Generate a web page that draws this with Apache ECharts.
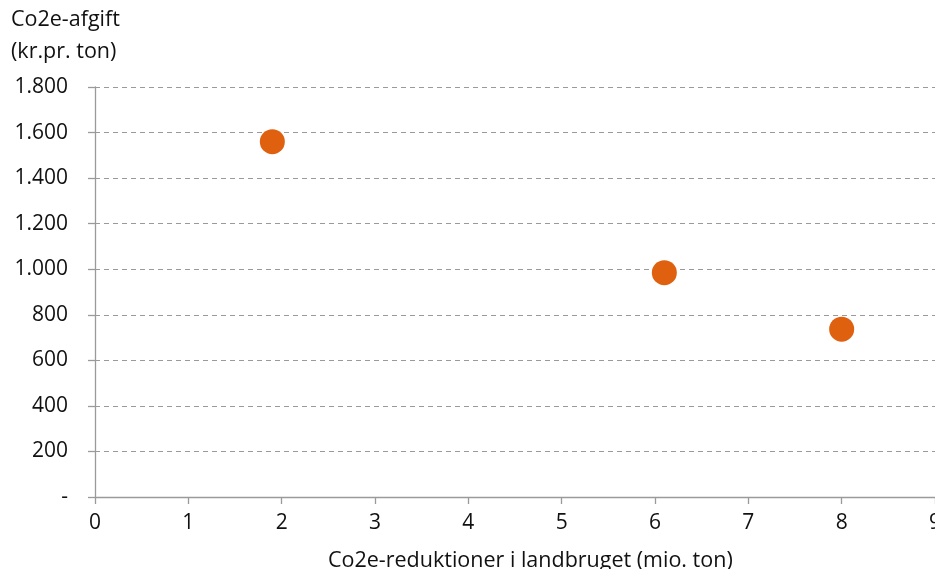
<!DOCTYPE html>
<html><head><meta charset="utf-8">
<script src="https://cdn.jsdelivr.net/npm/echarts@6/dist/echarts.min.js"></script>
<style>html,body{margin:0;padding:0;background:#fff}#c{width:935px;height:569px}</style>
</head><body><div id="c"></div>
<script>
const xValues = [1.9, 6.1, 8.0];
const yValues = [1560, 985, 737];
const yTitle = ['Co2e-afgift', '(kr.pr. ton)'];
const xTitle = 'Co2e-reduktioner i landbruget (mio. ton)';
const FONT = '"Open Sans", "Noto Sans", sans-serif';
const chart = echarts.init(document.getElementById('c'));
const fmt = v => v === 0 ? '-' : String(v).replace(/\B(?=(\d{3})+(?!\d))/g, '.');
chart.setOption({
  animation: false,
  grid: {left: 95, right: 0, top: 87, bottom: 72, containLabel: false, outerBoundsMode: 'none'},
  xAxis: {
    type: 'value', min: 0, max: 9, interval: 1,
    axisLine: {show: true, lineStyle: {color: '#9a9a9a', width: 1.3}},
    axisTick: {show: true, length: 7, lineStyle: {color: '#9a9a9a', width: 1.3}},
    axisLabel: {color: '#111', fontSize: 21, fontFamily: FONT, margin: 16, showMaxLabel: true},
    splitLine: {show: false}
  },
  yAxis: {
    type: 'value', min: 0, max: 1800, interval: 200,
    axisLine: {show: true, lineStyle: {color: '#9a9a9a', width: 1.3}},
    axisTick: {show: true, length: 7, lineStyle: {color: '#9a9a9a', width: 1.3}},
    axisLabel: {color: '#111', fontSize: 21, fontFamily: FONT, margin: 27, formatter: fmt},
    splitLine: {show: true, lineStyle: {color: '#9a9a9a', type: [5, 4], width: 1}}
  },
  graphic: [
    {type: 'text', left: 11, top: 4, style: {text: yTitle.join('\n'), font: '21.5px ' + FONT, fill: '#111', lineHeight: 32}},
    {type: 'text', left: 328, top: 550, style: {text: xTitle, font: '21.5px ' + FONT, fill: '#111'}}
  ],
  series: [{
    type: 'scatter',
    symbolSize: 25,
    itemStyle: {color: '#DF600E', opacity: 1},
    data: xValues.map((x, i) => [x, yValues[i]])
  }]
});
</script></body></html>
